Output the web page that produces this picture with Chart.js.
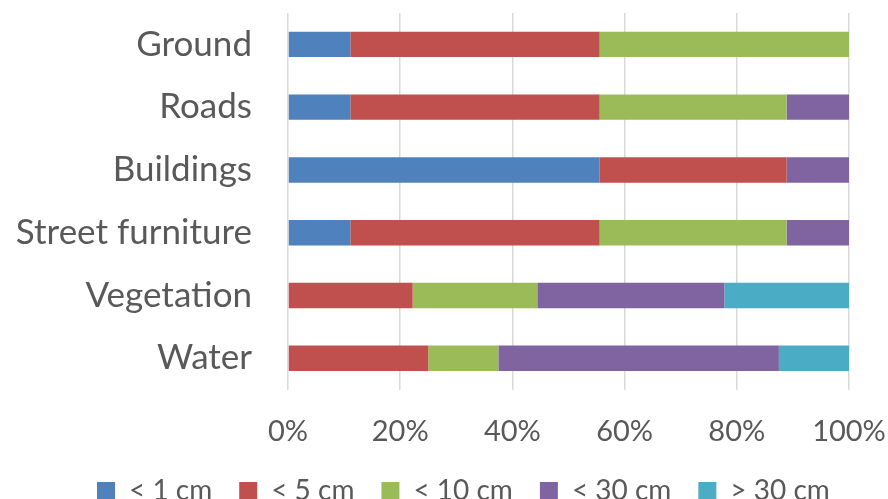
<!DOCTYPE html>
<html>
<head>
<meta charset="utf-8">
<script src="https://cdn.jsdelivr.net/npm/chart.js@4"></script>
<style>
  html, body { margin: 0; padding: 0; background: #fff; overflow: hidden; }
  #wrap { width: 888px; height: 515px; }
</style>
</head>
<body>
<div id="wrap"><canvas id="accuracy-chart"></canvas></div>
<script>
// Share of objects per accuracy class (percent of each category)
const categories = ['Ground', 'Roads', 'Buildings', 'Street furniture', 'Vegetation', 'Water'];
const under1cm  = [11.11, 11.11, 55.56, 11.11, 0, 0];
const under5cm  = [44.44, 44.44, 33.33, 44.44, 22.22, 25];
const under10cm = [44.45, 33.33, 0, 33.33, 22.22, 12.5];
const under30cm = [0, 11.12, 11.11, 11.12, 33.34, 50];
const over30cm  = [0, 0, 0, 0, 22.22, 12.5];
const xTicks = [0, 20, 40, 60, 80, 100];

const textColor = '#595959';
const fontFamily = 'Lato, "Open Sans", sans-serif';

// Legend sits a bit right of centre; move the whole row so the first box starts at legendStartX
const legendStartX = 97;
const legendShift = {
    id: 'legendShift',
    beforeDraw(chart) {
        const legend = chart.legend;
        if (!legend || !legend.legendHitBoxes.length) return;
        const dx = legendStartX - legend.legendHitBoxes[0].left;
        legend.left += dx;
        legend.right += dx;
        legend.legendHitBoxes.forEach(box => { box.left += dx; });
    }
};

const ctx = document.getElementById('accuracy-chart').getContext('2d');

new Chart(ctx, {
    type: 'bar',
    data: {
        labels: categories,
        datasets: [
            { label: '< 1 cm',  data: under1cm,  backgroundColor: '#4F81BD' },
            { label: '< 5 cm',  data: under5cm,  backgroundColor: '#C0504D' },
            { label: '< 10 cm', data: under10cm, backgroundColor: '#9BBB59' },
            { label: '< 30 cm', data: under30cm, backgroundColor: '#8064A2' },
            { label: '> 30 cm', data: over30cm,  backgroundColor: '#4BACC6' }
        ]
    },
    options: {
        indexAxis: 'y',
        responsive: true,
        maintainAspectRatio: false,
        animation: false,
        barPercentage: 0.405,
        categoryPercentage: 1,
        layout: { padding: { top: 13, right: 39, left: 0, bottom: 0 } },
        scales: {
            x: {
                stacked: true,
                min: 0,
                max: 100,
                afterBuildTicks: (scale) => {
                    scale.ticks = xTicks.map(v => ({ value: v }));
                },
                afterFit: (scale) => {
                    scale.paddingLeft = 0;
                    scale.paddingRight = 0;
                    scale.height = 60.4;
                },
                grid: { color: '#D9D9D9', lineWidth: 1.5, drawTicks: false },
                border: { display: false },
                ticks: {
                    padding: 25,
                    maxRotation: 0,
                    color: textColor,
                    font: { family: fontFamily, size: 29 },
                    callback: (value) => value + '%'
                }
            },
            y: {
                stacked: true,
                afterFit: (scale) => {
                    scale.width = 288;
                    scale.paddingTop = 0;
                    scale.paddingBottom = 0;
                },
                grid: { display: false, drawTicks: false },
                border: { display: false },
                ticks: {
                    padding: 36,
                    color: textColor,
                    font: { family: fontFamily, size: 35 }
                }
            }
        },
        plugins: {
            legend: {
                position: 'bottom',
                labels: {
                    boxWidth: 18,
                    boxHeight: 18,
                    padding: 27,
                    color: textColor,
                    font: { family: fontFamily, size: 28 }
                }
            },
            tooltip: { enabled: false }
        }
    },
    plugins: [legendShift]
});
</script>
</body>
</html>
